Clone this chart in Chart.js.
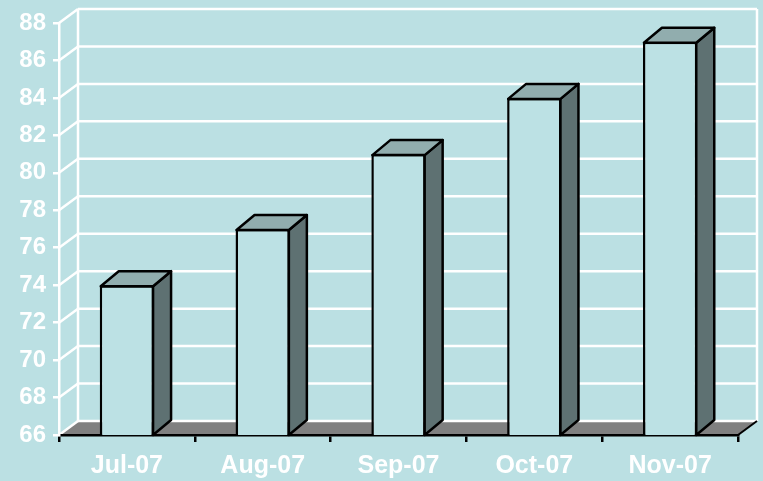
<!DOCTYPE html>
<html>
<head>
<meta charset="utf-8">
<script src="https://cdn.jsdelivr.net/npm/chart.js@4/dist/chart.umd.min.js"></script>
<style>
  html, body { margin: 0; padding: 0; background: #bbe0e3; }
  #c { display: block; }
</style>
</head>
<body>
<canvas id="c" width="763" height="481" style="width:763px;height:481px"></canvas>
<script>
// Monthly values, Jul-07 through Nov-07
const categories = ['Jul-07', 'Aug-07', 'Sep-07', 'Oct-07', 'Nov-07'];
const values = [74, 77, 81, 84, 87];
const yMin = 66;
const yMax = 88;
const yStep = 2;

// Depth offsets for the pseudo-3D walls and bar boxes
const WALL_DX = 19, WALL_DY = 14;
const BAR_DX = 18, BAR_DY = 15;

const FONT = "'Liberation Sans', Arial, sans-serif";

function line(ctx, x1, y1, x2, y2) {
  ctx.beginPath();
  ctx.moveTo(x1, y1);
  ctx.lineTo(x2, y2);
  ctx.stroke();
}

const box3d = {
  id: 'box3d',
  beforeDraw(chart) {
    const { ctx, chartArea: { left, right, top, bottom }, scales: { y } } = chart;
    ctx.save();
    // floor
    ctx.fillStyle = '#808080';
    ctx.beginPath();
    ctx.moveTo(left, bottom);
    ctx.lineTo(right, bottom);
    ctx.lineTo(right + WALL_DX, bottom - WALL_DY);
    ctx.lineTo(left + WALL_DX, bottom - WALL_DY);
    ctx.closePath();
    ctx.fill();
    // back wall and side wall grid lines
    ctx.strokeStyle = '#ffffff';
    ctx.lineWidth = 2.5;
    y.ticks.forEach(t => {
      const py = y.getPixelForValue(t.value);
      line(ctx, left + WALL_DX, py - WALL_DY, right + WALL_DX, py - WALL_DY);
      line(ctx, left, py, left + WALL_DX, py - WALL_DY);
    });
    line(ctx, left + WALL_DX, top - WALL_DY, left + WALL_DX, bottom - WALL_DY);
    line(ctx, right + WALL_DX, top - WALL_DY, right + WALL_DX, bottom - WALL_DY);
    // floor right edge
    ctx.strokeStyle = '#000000';
    ctx.lineWidth = 2;
    line(ctx, right, bottom, right + WALL_DX, bottom - WALL_DY);
    ctx.restore();
  },
  afterDatasetsDraw(chart) {
    const { ctx, chartArea } = chart;
    const meta = chart.getDatasetMeta(0);
    ctx.save();
    ctx.strokeStyle = '#000000';
    ctx.lineWidth = 2.5;
    ctx.lineJoin = 'round';
    meta.data.forEach(bar => {
      const { x, y, width } = bar.getProps(['x', 'y', 'width'], true);
      const xl = x - width / 2 + 1;
      const xr = x + width / 2 - 1;
      const yt = y + 1;
      const yb = chartArea.bottom;
      // side face
      ctx.fillStyle = '#5e7172';
      ctx.beginPath();
      ctx.moveTo(xr, yt);
      ctx.lineTo(xr + BAR_DX, yt - BAR_DY);
      ctx.lineTo(xr + BAR_DX, yb - BAR_DY);
      ctx.lineTo(xr, yb);
      ctx.closePath();
      ctx.fill();
      ctx.stroke();
      // top face
      ctx.fillStyle = '#91adae';
      ctx.beginPath();
      ctx.moveTo(xl, yt);
      ctx.lineTo(xl + BAR_DX, yt - BAR_DY);
      ctx.lineTo(xr + BAR_DX, yt - BAR_DY);
      ctx.lineTo(xr, yt);
      ctx.closePath();
      ctx.fill();
      ctx.stroke();
    });
    ctx.restore();
  }
};

new Chart(document.getElementById('c'), {
  type: 'bar',
  data: {
    labels: categories,
    datasets: [{
      data: values,
      backgroundColor: '#bce1e4',
      borderColor: '#000000',
      borderWidth: 2.5,
      borderSkipped: false,
      categoryPercentage: 1,
      barPercentage: 0.4
    }]
  },
  options: {
    responsive: false,
    animation: false,
    layout: { padding: { top: 23, right: 25, left: 0, bottom: 0 } },
    plugins: { legend: { display: false }, tooltip: { enabled: false } },
    scales: {
      x: {
        offset: true,
        grid: {
          display: true, offset: true, drawOnChartArea: false, drawTicks: true,
          tickLength: 7, color: '#000000', lineWidth: 2.5
        },
        border: { display: true, color: '#000000', width: 2.5 },
        ticks: {
          color: '#ffffff', padding: 9,
          font: { family: FONT, size: 25, weight: 'bold' },
          maxRotation: 0
        },
        afterFit(scale) { scale.height = 46; }
      },
      y: {
        min: yMin,
        max: yMax,
        grid: {
          display: true, drawOnChartArea: false, drawTicks: true,
          tickLength: 6, color: '#ffffff', lineWidth: 2.5
        },
        border: { display: true, color: '#ffffff', width: 2.5 },
        ticks: {
          stepSize: yStep, color: '#ffffff', padding: 7,
          font: { family: FONT, size: 24, weight: 'bold' }
        },
        afterFit(scale) { scale.width = 59; }
      }
    }
  },
  plugins: [box3d]
});
</script>
</body>
</html>
